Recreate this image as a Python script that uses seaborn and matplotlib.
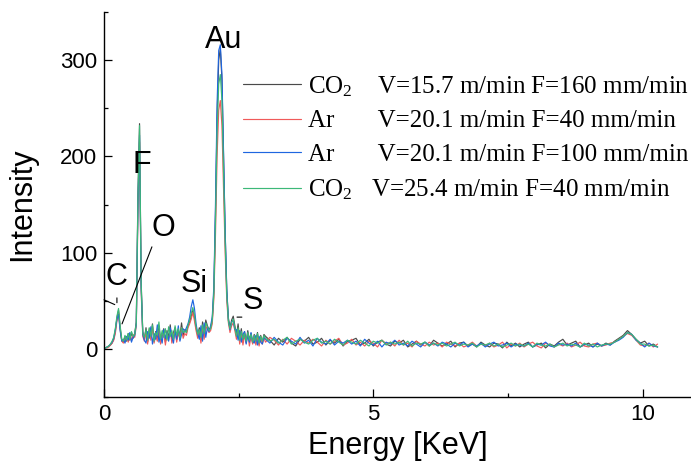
import numpy as np
import pandas as pd
import matplotlib
matplotlib.use("Agg")
import matplotlib.pyplot as plt
from matplotlib.ticker import MultipleLocator
import seaborn as sns

# ---------------- data ----------------
# energy channels: 0-2.97 keV (0.03 keV step) and 3.00-10.28 keV (0.08 keV step)
energy_low = np.round(np.arange(100) * 0.03, 2)
energy_high = np.round(3.0 + np.arange(92) * 0.08, 2)

series_names = [
    r"CO$_\mathrm{2}$    V=15.7 m/min F=160 mm/min",
    r"Ar       V=20.1 m/min F=40 mm/min",
    r"Ar       V=20.1 m/min F=100 mm/min",
    r"CO$_\mathrm{2}$   V=25.4 m/min F=40 mm/min",
]
series_colors = ["#4a4a4a", "#f05a5a", "#1f66e0", "#3cb878"]

co2_157_low = [1, 1, 2, 3, 4, 6, 10, 18, 32, 40, 22, 9,
               7, 13, 8, 16, 9, 17, 11,
               16, 28, 160, 234, 70, 18,
               10, 22, 7, 19, 12, 26, 8, 18, 11, 24, 9, 16, 21, 7, 19, 12, 25, 9, 17, 22, 10, 20, 13, 27, 14,
               20, 17, 24, 28, 34, 40, 33, 22, 14,
               22, 10, 28, 14, 30,
               24, 20, 22, 30, 60, 140, 240, 300, 312, 280, 200, 120, 60, 32, 22, 30, 34, 24,
               14, 26, 10, 21, 8, 18, 7, 19, 9, 16, 6, 15, 8, 17, 5, 14, 7, 15]
co2_157_high = [13, 9, 4, 11, 7, 12, 6, 3, 10, 8,
                12, 5, 7, 11, 4, 9, 6, 10, 3, 8,
                9, 11, 4, 6, 10, 3, 7, 9, 5, 3,
                8, 6, 9, 2, 5, 8, 4, 7, 3, 9,
                6, 3, 5, 8, 2, 6, 7, 3, 5, 2,
                7, 4, 2, 6, 5, 1, 7, 3, 6, 2,
                5, 7, 2, 4, 6, 1, 5, 3, 7, 10,
                4, 6, 8, 2, 4, 6, 2, 5, 3, 6,
                4, 8, 11, 14, 19, 15, 10, 6, 8, 3,
                5, 2]

ar_f40_low = [1, 1, 1, 2, 4, 6, 9, 16, 29, 37, 20, 8,
              6, 10, 13, 7, 14, 9, 15,
              12, 24, 140, 215, 60, 13,
              8, 17, 5, 21, 9, 23, 6, 14, 8, 19, 5, 13, 18, 4, 16, 9, 20, 6, 15, 19, 7, 17, 10, 22, 11,
              16, 14, 22, 26, 31, 38, 29, 19, 11,
              19, 6, 21, 10, 24,
              20, 17, 19, 26, 52, 118, 200, 248, 258, 232, 168, 100, 50, 27, 17, 24, 27, 19,
              10, 20, 5, 17, 4, 14, 6, 16, 3, 13, 5, 14, 4, 12, 3, 13, 5, 11]
ar_f40_high = [7, 12, 9, 4, 10, 5, 11, 8, 4, 9,
               6, 10, 7, 3, 9, 5, 8, 11, 4, 6,
               10, 4, 7, 3, 8, 6, 2, 9, 5, 7,
               3, 9, 4, 6, 2, 8, 5, 3, 7, 4,
               6, 2, 7, 5, 3, 6, 2, 4, 7, 3,
               5, 3, 6, 2, 4, 7, 1, 5, 3, 6,
               2, 5, 7, 3, 1, 6, 4, 2, 5, 3,
               6, 2, 4, 7, 3, 2, 5, 6, 3, 4,
               6, 7, 10, 13, 16, 14, 9, 4, 3, 6,
               2, 5]

ar_f100_low = [0, 1, 2, 3, 5, 7, 11, 20, 31, 36, 19, 8,
               10, 6, 13, 9, 17, 7, 12,
               14, 26, 150, 222, 64, 15,
               9, 6, 18, 11, 23, 5, 16, 10, 25, 7, 14, 6, 20, 11, 17, 8, 22, 13, 6, 19, 10, 24, 8, 15, 21,
               18, 22, 26, 33, 44, 51, 42, 26, 16,
               10, 24, 8, 27, 12,
               22, 18, 24, 33, 65, 150, 255, 310, 316, 285, 205, 122, 62, 30, 20, 28, 30, 20,
               20, 9, 19, 7, 15, 18, 5, 14, 7, 17, 8, 6, 14, 4, 13, 7, 5, 12]
ar_f100_high = [10, 6, 12, 7, 4, 11, 8, 5, 12, 6,
                9, 3, 11, 7, 5, 10, 4, 8, 6, 9,
                5, 8, 3, 10, 6, 4, 8, 2, 7, 5,
                9, 4, 6, 3, 8, 5, 2, 7, 4, 6,
                3, 7, 5, 2, 6, 4, 7, 2, 5, 3,
                6, 2, 5, 7, 3, 4, 6, 2, 5, 4,
                3, 6, 2, 5, 4, 7, 3, 2, 6, 4,
                5, 3, 6, 2, 5, 4, 2, 6, 3, 5,
                4, 7, 9, 12, 17, 15, 9, 6, 2, 6,
                3, 2]

co2_254_low = [1, 1, 2, 3, 5, 8, 12, 21, 34, 42, 24, 10,
               8, 14, 9, 16, 10, 18, 13,
               15, 27, 155, 232, 68, 16,
               12, 20, 9, 22, 13, 25, 8, 17, 14, 28, 10, 19, 12, 21, 9, 23, 13, 19, 10, 24, 14, 21, 11, 22, 17,
               19, 17, 25, 30, 37, 43, 35, 23, 15,
               20, 12, 25, 16, 27,
               23, 19, 21, 29, 58, 132, 225, 275, 285, 258, 185, 110, 56, 29, 21, 27, 31, 22,
               13, 22, 9, 18, 10, 16, 8, 17, 9, 15, 7, 14, 8, 16, 6, 13, 8, 14]
co2_254_high = [11, 8, 10, 6, 9, 12, 5, 8, 10, 7,
                5, 9, 11, 6, 8, 5, 10, 7, 4, 9,
                7, 5, 9, 6, 3, 8, 6, 9, 4, 7,
                5, 7, 4, 8, 3, 6, 5, 7, 3, 6,
                4, 6, 3, 5, 7, 3, 5, 4, 6, 2,
                5, 4, 6, 3, 5, 2, 4, 6, 3, 5,
                3, 5, 2, 6, 4, 3, 5, 2, 4, 6,
                3, 5, 4, 2, 6, 3, 5, 2, 4, 5,
                5, 7, 10, 13, 17, 15, 10, 5, 5, 3,
                4, 2]

# peak labels: (text, x, y)
peak_labels = [("C", 0.24, 75), ("O", 1.10, 126), ("F", 0.70, 191),
               ("Si", 1.67, 67), ("Au", 2.23, 321), ("S", 2.77, 50)]
# leader lines: ((x0, y0), (x1, y1))
leader_lines = [((0.0, 51), (0.2, 46)), ((0.24, 53), (0.24, 48)),
                ((0.89, 106), (0.335, 26)), ((2.47, 33), (2.56, 33))]

# ---------------- build table ----------------
lows = [co2_157_low, ar_f40_low, ar_f100_low, co2_254_low]
highs = [co2_157_high, ar_f40_high, ar_f100_high, co2_254_high]
frames = []
for name, lo, hi in zip(series_names, lows, highs):
    frames.append(pd.DataFrame({
        "Energy": np.concatenate([energy_low, energy_high]),
        "Intensity": np.concatenate([lo, hi]),
        "series": name,
    }))
df = pd.concat(frames, ignore_index=True)

# ---------------- plot ----------------
sns.set_style("ticks")
plt.rcParams["font.family"] = ["Liberation Sans", "DejaVu Sans"]
plt.rcParams["mathtext.fontset"] = "custom"
plt.rcParams["mathtext.rm"] = "Liberation Serif"
plt.rcParams["mathtext.it"] = "Liberation Serif:italic"
plt.rcParams["text.color"] = "black"
plt.rcParams["axes.labelcolor"] = "black"
plt.rcParams["xtick.color"] = "black"
plt.rcParams["ytick.color"] = "black"

fig = plt.figure(figsize=(6.91, 4.65), dpi=100)
ax = fig.add_axes([0.1505, 0.1462, 0.8495, 0.828])

sns.lineplot(data=df, x="Energy", y="Intensity", hue="series",
             hue_order=series_names, palette=dict(zip(series_names, series_colors)),
             estimator=None, sort=False, linewidth=0.85, ax=ax)

ax.set_xlim(0, 10.9)
ax.set_ylim(-50, 350)
ax.xaxis.set_major_locator(MultipleLocator(5))
ax.xaxis.set_minor_locator(MultipleLocator(2.5))
ax.yaxis.set_major_locator(MultipleLocator(100))
ax.yaxis.set_minor_locator(MultipleLocator(50))
ax.tick_params(which="both", direction="in", colors="black", labelsize=16, pad=5)
ax.tick_params(which="major", length=5.5, width=0.9)
ax.tick_params(which="minor", length=3, width=0.9)
for side in ["top", "right"]:
    ax.spines[side].set_visible(False)
for side in ["left", "bottom"]:
    ax.spines[side].set_color("black")
    ax.spines[side].set_linewidth(1.0)

ax.set_xlabel("Energy [KeV]", fontsize=22, labelpad=4, color="black")
ax.set_ylabel("Intensity", fontsize=22, labelpad=16, color="black")

for txt, x, y in peak_labels:
    ax.text(x, y, txt, fontsize=22, ha="center", va="center", color="black")
for (x0, y0), (x1, y1) in leader_lines:
    ax.annotate("", xy=(x1, y1), xytext=(x0, y0),
                arrowprops=dict(arrowstyle="-", color="black", lw=0.8,
                                shrinkA=0, shrinkB=0))

handles, labels = ax.get_legend_handles_labels()
leg = ax.legend(handles, labels, loc="upper left",
                bbox_to_anchor=(243 / 691, 1 - 74 / 465), bbox_transform=fig.transFigure,
                frameon=False, prop={"family": "Liberation Serif", "size": 18},
                handlelength=2.3, handletextpad=0.3, labelspacing=0.45,
                borderpad=0, borderaxespad=0)
for t in leg.get_texts():
    t.set_color("black")

fig.savefig("out.png", dpi=100)
